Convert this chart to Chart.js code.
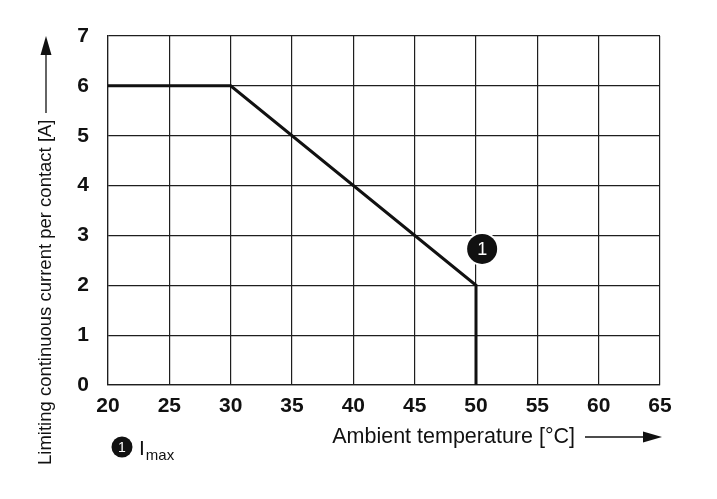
<!DOCTYPE html>
<html>
<head>
<meta charset="utf-8">
<script src="https://cdn.jsdelivr.net/npm/chart.js@4/dist/chart.umd.min.js"></script>
<style>
html,body{margin:0;padding:0;background:#fff;}
#wrap{width:717px;height:499px;position:relative;}
</style>
</head>
<body>
<div id="wrap"><canvas id="c" width="717" height="499"></canvas></div>
<script>
// Data
const temperatures = [20, 30, 50, 50];
const currents = [6, 6, 2, 0];
const xTickValues = [20, 25, 30, 35, 40, 45, 50, 55, 60, 65];
const yTickValues = [0, 1, 2, 3, 4, 5, 6, 7];
const markerX = [50.5];
const markerY = [2.73];
const markerLabels = ['1'];
const xTitle = 'Ambient temperature [°C]';
const yTitle = 'Limiting continuous current per contact [A]';
const legendMain = 'I';
const legendSub = 'max';

const FONT = "'Liberation Sans', Arial, Helvetica, sans-serif";
const INK = '#111';
const GRID = '#1e1e1e';

const annotations = {
  id: 'annotations',
  afterDraw(chart) {
    const ctx = chart.ctx;
    const xs = chart.scales.x, ys = chart.scales.y;
    ctx.save();
    // marker circles
    markerX.forEach((mx, i) => {
      const px = xs.getPixelForValue(mx), py = ys.getPixelForValue(markerY[i]);
      ctx.beginPath(); ctx.arc(px, py, 17, 0, Math.PI * 2); ctx.fillStyle = '#fff'; ctx.fill();
      ctx.beginPath(); ctx.arc(px, py, 15, 0, Math.PI * 2); ctx.fillStyle = INK; ctx.fill();
      ctx.fillStyle = '#fff'; ctx.font = '18px ' + FONT; ctx.textAlign = 'center'; ctx.textBaseline = 'middle';
      ctx.fillText(markerLabels[i], px, py + 1);
    });
    // x axis title + arrow
    const ty = 437;
    ctx.fillStyle = INK; ctx.font = '21.5px ' + FONT; ctx.textAlign = 'right'; ctx.textBaseline = 'middle';
    ctx.fillText(xTitle, 575, ty);
    ctx.strokeStyle = INK; ctx.lineWidth = 1.3;
    ctx.beginPath(); ctx.moveTo(585, ty); ctx.lineTo(645, ty); ctx.stroke();
    ctx.beginPath(); ctx.moveTo(662, ty); ctx.lineTo(643, ty - 5.5); ctx.lineTo(643, ty + 5.5); ctx.closePath(); ctx.fill();
    // y axis title + arrow
    const tx = 46;
    ctx.save();
    ctx.translate(tx, 465); ctx.rotate(-Math.PI / 2);
    ctx.textAlign = 'left'; ctx.textBaseline = 'middle'; ctx.font = '18.5px ' + FONT;
    ctx.fillText(yTitle, 0, 0);
    ctx.restore();
    ctx.beginPath(); ctx.moveTo(tx, 113); ctx.lineTo(tx, 53); ctx.stroke();
    ctx.beginPath(); ctx.moveTo(tx, 36); ctx.lineTo(tx - 5.5, 55); ctx.lineTo(tx + 5.5, 55); ctx.closePath(); ctx.fill();
    // legend
    ctx.beginPath(); ctx.arc(122, 447, 10.5, 0, Math.PI * 2); ctx.fill();
    ctx.fillStyle = '#fff'; ctx.font = '14px ' + FONT; ctx.textAlign = 'center'; ctx.textBaseline = 'middle';
    ctx.fillText(markerLabels[0], 122, 448);
    ctx.fillStyle = INK; ctx.textAlign = 'left'; ctx.textBaseline = 'alphabetic';
    ctx.font = '21px ' + FONT; ctx.fillText(legendMain, 139, 455);
    const w = ctx.measureText(legendMain).width;
    ctx.font = '15px ' + FONT; ctx.fillText(legendSub, 139 + w + 1, 460);
    ctx.restore();
  }
};

new Chart(document.getElementById('c'), {
  type: 'scatter',
  data: {
    datasets: [{
      data: temperatures.map((t, i) => ({ x: t, y: currents[i] })),
      showLine: true,
      borderColor: INK,
      borderWidth: 3,
      pointRadius: 0,
      fill: false,
      tension: 0
    }]
  },
  options: {
    responsive: false,
    animation: false,
    devicePixelRatio: 1,
    layout: { padding: { left: 0, right: 57, top: 36, bottom: 74 } },
    plugins: { legend: { display: false }, tooltip: { enabled: false } },
    scales: {
      x: {
        type: 'linear', min: 20, max: 65,
        afterBuildTicks: s => { s.ticks = xTickValues.map(v => ({ value: v })); },
        afterFit: s => { s.height = 40; },
        grid: { color: GRID, lineWidth: 1.2, drawTicks: false },
        border: { color: GRID, width: 1.2 },
        ticks: { padding: 9, color: INK, font: { family: FONT, size: 21, weight: 'bold' }, maxRotation: 0 }
      },
      y: {
        type: 'linear', min: 0, max: 7,
        afterBuildTicks: s => { s.ticks = yTickValues.map(v => ({ value: v })); },
        afterFit: s => { s.width = 108; },
        grid: { color: GRID, lineWidth: 1.2, drawTicks: false },
        border: { color: GRID, width: 1.2 },
        ticks: { padding: 19, color: INK, font: { family: FONT, size: 21, weight: 'bold' } }
      }
    }
  },
  plugins: [annotations]
});
</script>
</body>
</html>
